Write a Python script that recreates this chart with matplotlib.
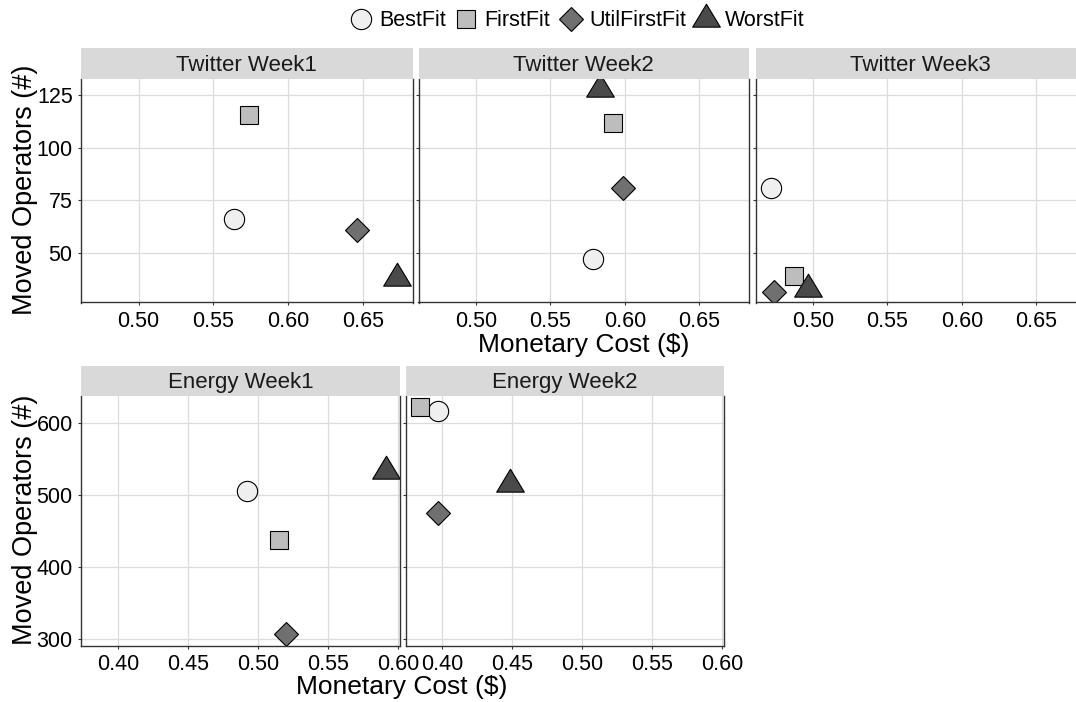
import matplotlib
matplotlib.use("Agg")
import matplotlib.pyplot as plt
from matplotlib.lines import Line2D
from matplotlib.path import Path

plt.rcParams['font.family'] = ['Liberation Sans', 'DejaVu Sans']

# Data
methods = ['BestFit', 'FirstFit', 'UtilFirstFit', 'WorstFit']

twitter_panels = ['Twitter Week1', 'Twitter Week2', 'Twitter Week3']
twitter_cost = [[0.564, 0.574, 0.6465, 0.6733],
                [0.5785, 0.592, 0.599, 0.5833],
                [0.4715, 0.487, 0.474, 0.497]]
twitter_moved = [[66.1, 115.6, 61.1, 38.0],
                 [47.0, 111.6, 81.0, 127.8],
                 [81.0, 39.1, 31.3, 32.9]]
twitter_xticks = [0.50, 0.55, 0.60, 0.65]
twitter_yticks = [50, 75, 100, 125]

energy_panels = ['Energy Week1', 'Energy Week2']
energy_cost = [[0.492, 0.515, 0.520, 0.591],
               [0.397, 0.384, 0.397, 0.448]]
energy_moved = [[505.6, 437.9, 306.9, 532.9],
                [616.3, 621.4, 475.4, 514.3]]
energy_xticks = [0.40, 0.45, 0.50, 0.55, 0.60]
energy_yticks = [300, 400, 500, 600]

# marker styles (ggplot shapes 21, 22, 23, 24)
tri = Path([(0, 0.553), (-0.5, -0.277), (0.5, -0.277), (0, 0.553)],
           [Path.MOVETO, Path.LINETO, Path.LINETO, Path.CLOSEPOLY])
markers = ['o', 's', 'D', tri]
sizes = [14.6, 12.6, 12.4, 22.0]
fills = ['#efefef', '#bdbdbd', '#707070', '#4a4a4a']

W, H = 1076, 702
fig = plt.figure(figsize=(W / 100, H / 100), dpi=100)


def px_axes(x0, x1, y0, y1):
    return fig.add_axes([x0 / W, 1 - y1 / H, (x1 - x0) / W, (y1 - y0) / H])


def limits(values):
    flat = [v for row in values for v in row]
    lo, hi = min(flat), max(flat)
    pad = (hi - lo) * 0.05
    return lo - pad, hi + pad


def draw_row(titles, costs, moved, xticks, yticks, xs, y0, y1, strip_top):
    xlim = limits(costs)
    ylim = limits(moved)
    for i, title in enumerate(titles):
        ax = px_axes(xs[i][0], xs[i][1], y0, y1)
        ax.set_xlim(xlim)
        ax.set_ylim(ylim)
        ax.set_xticks(xticks)
        ax.set_yticks(yticks)
        ax.set_xticklabels(['%.2f' % t for t in xticks])
        if i > 0:
            ax.set_yticklabels([])
        ax.grid(True, color='#dcdcdc', linewidth=0.9)
        ax.set_axisbelow(True)
        for side in ['left', 'right', 'bottom']:
            ax.spines[side].set_color('#333333')
            ax.spines[side].set_linewidth(1.0)
        ax.spines['top'].set_visible(False)
        ax.tick_params(length=2.5, width=0.8, color='#333333', labelsize=15.5,
                       labelcolor='black', pad=3.5)
        for j in range(len(methods)):
            ax.plot(costs[i][j], moved[i][j], linestyle='none', marker=markers[j],
                    markersize=sizes[j], markerfacecolor=fills[j],
                    markeredgecolor='black', markeredgewidth=0.8)
        # facet strip
        st = px_axes(xs[i][0], xs[i][1], strip_top, y0)
        st.set_facecolor('#d9d9d9')
        st.set_xticks([])
        st.set_yticks([])
        for s in st.spines.values():
            s.set_visible(False)
        st.text(0.5, 0.45, title, ha='center', va='center', fontsize=16,
                color='#1a1a1a', transform=st.transAxes)


draw_row(twitter_panels, twitter_cost, twitter_moved, twitter_xticks, twitter_yticks,
         [(81, 412.5), (418.5, 749), (755.5, 1086)], 79, 302.5, 48.3)
draw_row(energy_panels, energy_cost, energy_moved, energy_xticks, energy_yticks,
         [(81, 400), (405.7, 723.7)], 395.7, 645.7, 366)

# axis titles
fig.text(583.5 / W, 1 - 345 / H, 'Monetary Cost ($)', ha='center', va='center', fontsize=19)
fig.text(402 / W, 1 - 687 / H, 'Monetary Cost ($)', ha='center', va='center', fontsize=19)
fig.text(25 / W, 1 - 190 / H, 'Moved Operators (#)', rotation=90, ha='center', va='center', fontsize=19.5)
fig.text(25 / W, 1 - 520 / H, 'Moved Operators (#)', rotation=90, ha='center', va='center', fontsize=19.5)

# legend on top
handles = [Line2D([], [], linestyle='none', marker=markers[j], markersize=sizes[j],
                  markerfacecolor=fills[j], markeredgecolor='black', markeredgewidth=0.8)
           for j in range(len(methods))]
fig.legend(handles, methods, loc='center', bbox_to_anchor=(577 / W, 1 - 21 / H), ncol=4,
           frameon=False, fontsize=15.5, handlelength=1.0, handletextpad=0.35,
           columnspacing=0.45, borderpad=0)

fig.savefig('out.png', dpi=100)
